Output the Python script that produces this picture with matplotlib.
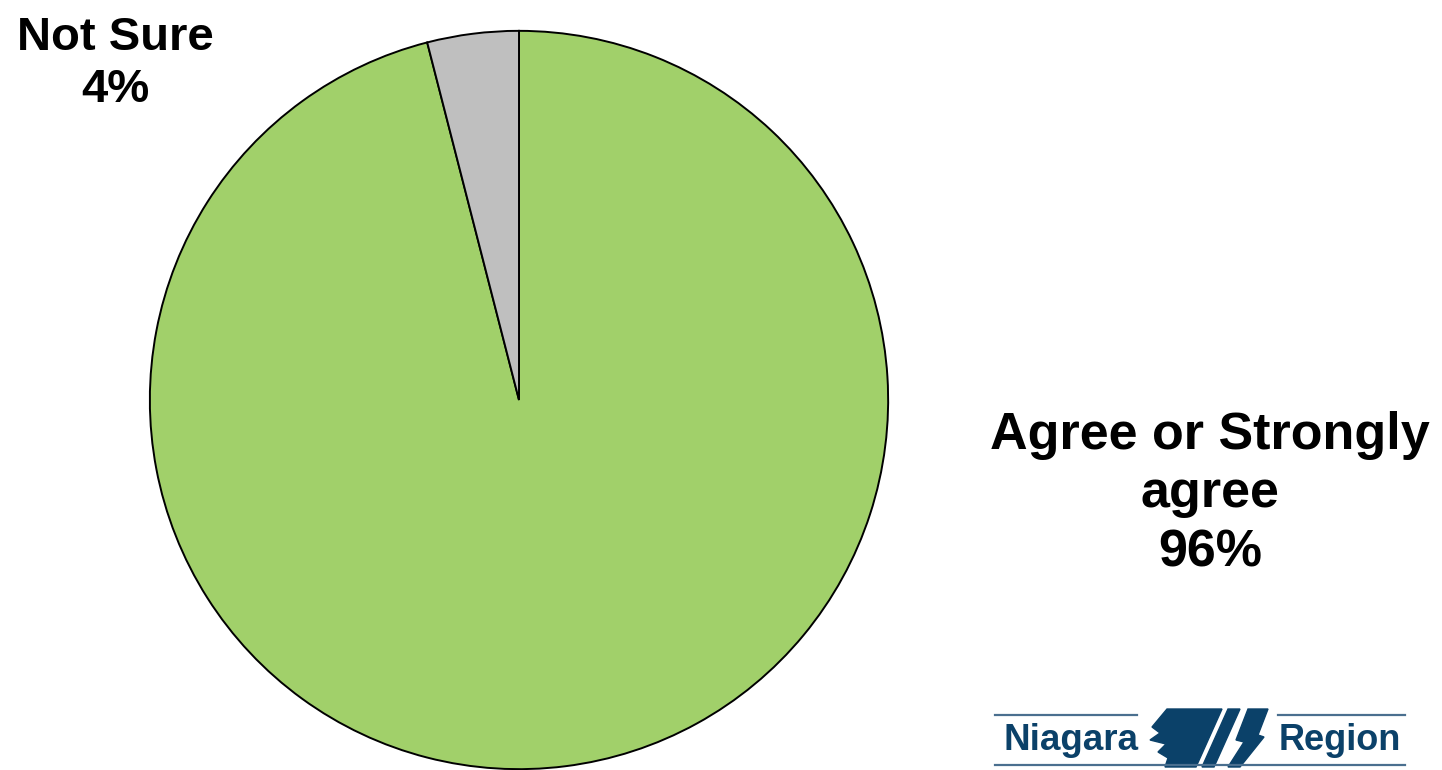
import matplotlib
matplotlib.use("Agg")
import matplotlib.pyplot as plt
from matplotlib.patches import Polygon

labels = ["Agree or Strongly\nagree", "Not Sure"]
values = [96, 4]
pct_labels = ["96%", "4%"]
colors = ["#A1D06A", "#BFBFBF"]

W, H = 1442, 770
fig = plt.figure(figsize=(W / 100, H / 100), dpi=100)
fig.patch.set_facecolor("white")

# pie axes (pixel-based placement)
cx, cy, r = 519, 400, 371
ax = fig.add_axes([(cx - r) / W, (H - cy - r) / H, 2 * r / W, 2 * r / H])
ax.pie(values, colors=colors, startangle=90, counterclock=False,
       radius=1.0, wedgeprops=dict(edgecolor="black", linewidth=1.4))
ax.set_xlim(-1.005, 1.005)
ax.set_ylim(-1.005, 1.005)
ax.set_aspect("auto")
ax.axis("off")

font = ["Liberation Sans", "DejaVu Sans"]
fig.text(115 / W, 1 - 64 / H, f"{labels[1]}\n{pct_labels[1]}", ha="center", va="center",
         fontsize=34, fontweight="bold", family=font, linespacing=1.23)
fig.text(1210 / W, 1 - 494 / H, f"{labels[0]}\n{pct_labels[0]}", ha="center", va="center",
         fontsize=37.5, fontweight="bold", family=font, linespacing=1.26)

# logo overlay in pixel coordinates
lg = fig.add_axes([0, 0, 1, 1], zorder=5)
lg.set_xlim(0, W)
lg.set_ylim(H, 0)
lg.axis("off")
lg.patch.set_alpha(0)
blue = "#0B4169"
lg.plot([995, 1137], [715, 715], color="#4A6F8F", lw=1.6)
lg.plot([1278, 1405], [715, 715], color="#4A6F8F", lw=1.6)
lg.plot([995, 1405], [765, 765], color="#4A6F8F", lw=1.6)
lg.text(1071, 741, "Niagara", ha="center", va="center", fontsize=26.5,
        fontweight="bold", color=blue, family=font)
lg.text(1340, 741, "Region", ha="center", va="center", fontsize=26,
        fontweight="bold", color=blue, family=font)
block = [(1167, 709), (1222, 709), (1196, 767), (1165, 767), (1168, 758),
         (1158, 752), (1166, 744), (1150, 740), (1160, 733), (1152, 727)]
lg.add_patch(Polygon(block, closed=True, color=blue))
s1 = [(1228, 709), (1240, 709), (1214, 767), (1202, 767)]
lg.add_patch(Polygon(s1, closed=True, color=blue))
s2 = [(1248, 709), (1268, 709), (1258, 735), (1264, 737), (1240, 767),
      (1228, 767), (1244, 742), (1236, 740)]
lg.add_patch(Polygon(s2, closed=True, color=blue))

fig.savefig("out.png", dpi=100, facecolor="white")
